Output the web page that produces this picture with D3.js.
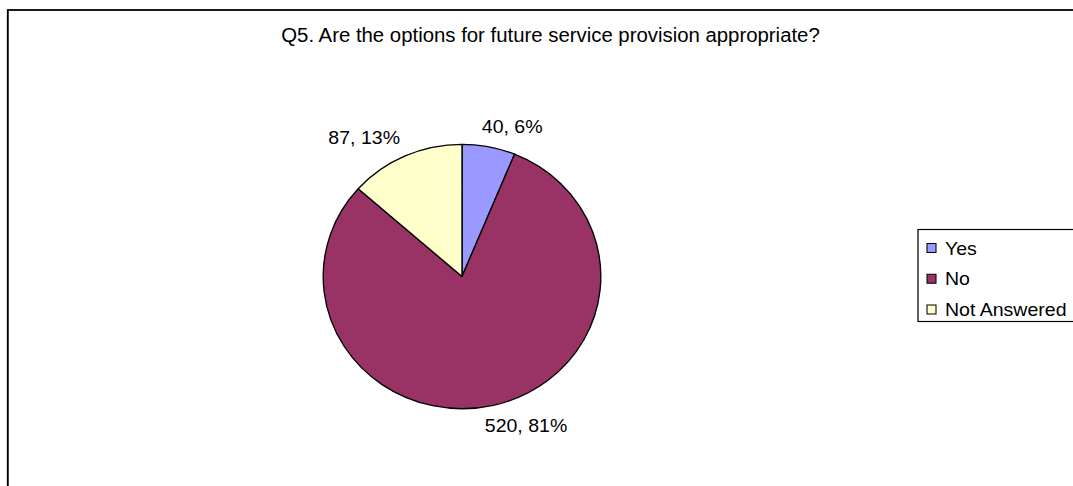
<!DOCTYPE html>
<html>
<head>
<meta charset="utf-8">
<script src="https://cdn.jsdelivr.net/npm/d3@7"></script>
<style>
  html, body { margin: 0; padding: 0; background: #fff; overflow: hidden; }
  svg { display: block; font-family: "Liberation Sans", Arial, sans-serif; }
</style>
</head>
<body>
<svg id="chart" width="1073" height="486"></svg>
<script>
// Survey responses to Q5
const title = "Q5. Are the options for future service provision appropriate?";
const categories = ["Yes", "No", "Not Answered"];
const counts = [40, 520, 87];
const percentLabels = ["6%", "81%", "13%"];
const colors = ["#9999FF", "#993366", "#FFFFCC"];

const W = 1073, H = 486;
const stretch = 1.05;             // the whole chart is drawn slightly widened
const svg = d3.select("#chart");

const g = svg.append("g").attr("transform", `scale(${stretch},1)`);
const X = v => v / stretch;       // screen x -> group x

// chart area frame
g.append("rect")
  .attr("x", X(7.8)).attr("y", 10)
  .attr("width", X(W + 40)).attr("height", H + 40)
  .attr("fill", "none").attr("stroke", "#000").attr("stroke-width", 1.8);

// title
g.append("text")
  .attr("x", X(550.5)).attr("y", 42.5)
  .attr("text-anchor", "middle")
  .attr("font-size", 19.4)
  .attr("fill", "#000")
  .text(title);

// pie
const cx = X(462), cy = 276.5, r = 132.2;
const pie = d3.pie().sort(null).value(d => d.value);
const data = categories.map((c, i) => ({ cat: c, value: counts[i], pct: percentLabels[i], color: colors[i] }));
const arcs = pie(data);
const arc = d3.arc().innerRadius(0).outerRadius(r);

const pg = g.append("g").attr("transform", `translate(${cx},${cy})`);
pg.selectAll("path.slice")
  .data(arcs)
  .join("path")
  .attr("class", "slice")
  .attr("d", arc)
  .attr("fill", d => d.data.color)
  .attr("stroke", "#000")
  .attr("stroke-width", 1.3)
  .attr("stroke-linejoin", "round");

// slice labels outside the pie
const labelR = 153;
const fs = 18.6;
pg.selectAll("text.lbl")
  .data(arcs)
  .join("text")
  .attr("class", "lbl")
  .attr("font-size", fs)
  .attr("text-anchor", "middle")
  .attr("fill", "#000")
  .text(d => `${d.data.value}, ${d.data.pct}`)
  .each(function (d) {
    const a = (d.startAngle + d.endAngle) / 2;
    const s = Math.sin(a), c = Math.cos(a);
    const hw = this.getComputedTextLength() / 2;
    const x = labelR * s + Math.sign(s) * hw * (0.4 + 1.2 * Math.abs(s));
    const y = -labelR * c + fs * 0.716 / 2;
    d3.select(this).attr("x", x).attr("y", y);
  });

// legend
const lg = g.append("g");
lg.append("rect")
  .attr("x", X(918)).attr("y", 229.5)
  .attr("width", X(W + 40 - 918)).attr("height", 92)
  .attr("fill", "#fff").attr("stroke", "#000").attr("stroke-width", 1.2);

const rowY = d3.scalePoint().domain(categories).range([248, 309.5]);
const items = lg.selectAll("g.item").data(data).join("g").attr("class", "item");
items.append("rect")
  .attr("x", X(927)).attr("y", d => rowY(d.cat) - 4.5)
  .attr("width", X(9)).attr("height", 9)
  .attr("fill", d => d.color)
  .attr("stroke", "#000").attr("stroke-width", 1);
items.append("text")
  .attr("x", X(945)).attr("y", d => rowY(d.cat) + 6.6)
  .attr("font-size", fs)
  .attr("fill", "#000")
  .text(d => d.cat);
</script>
</body>
</html>
